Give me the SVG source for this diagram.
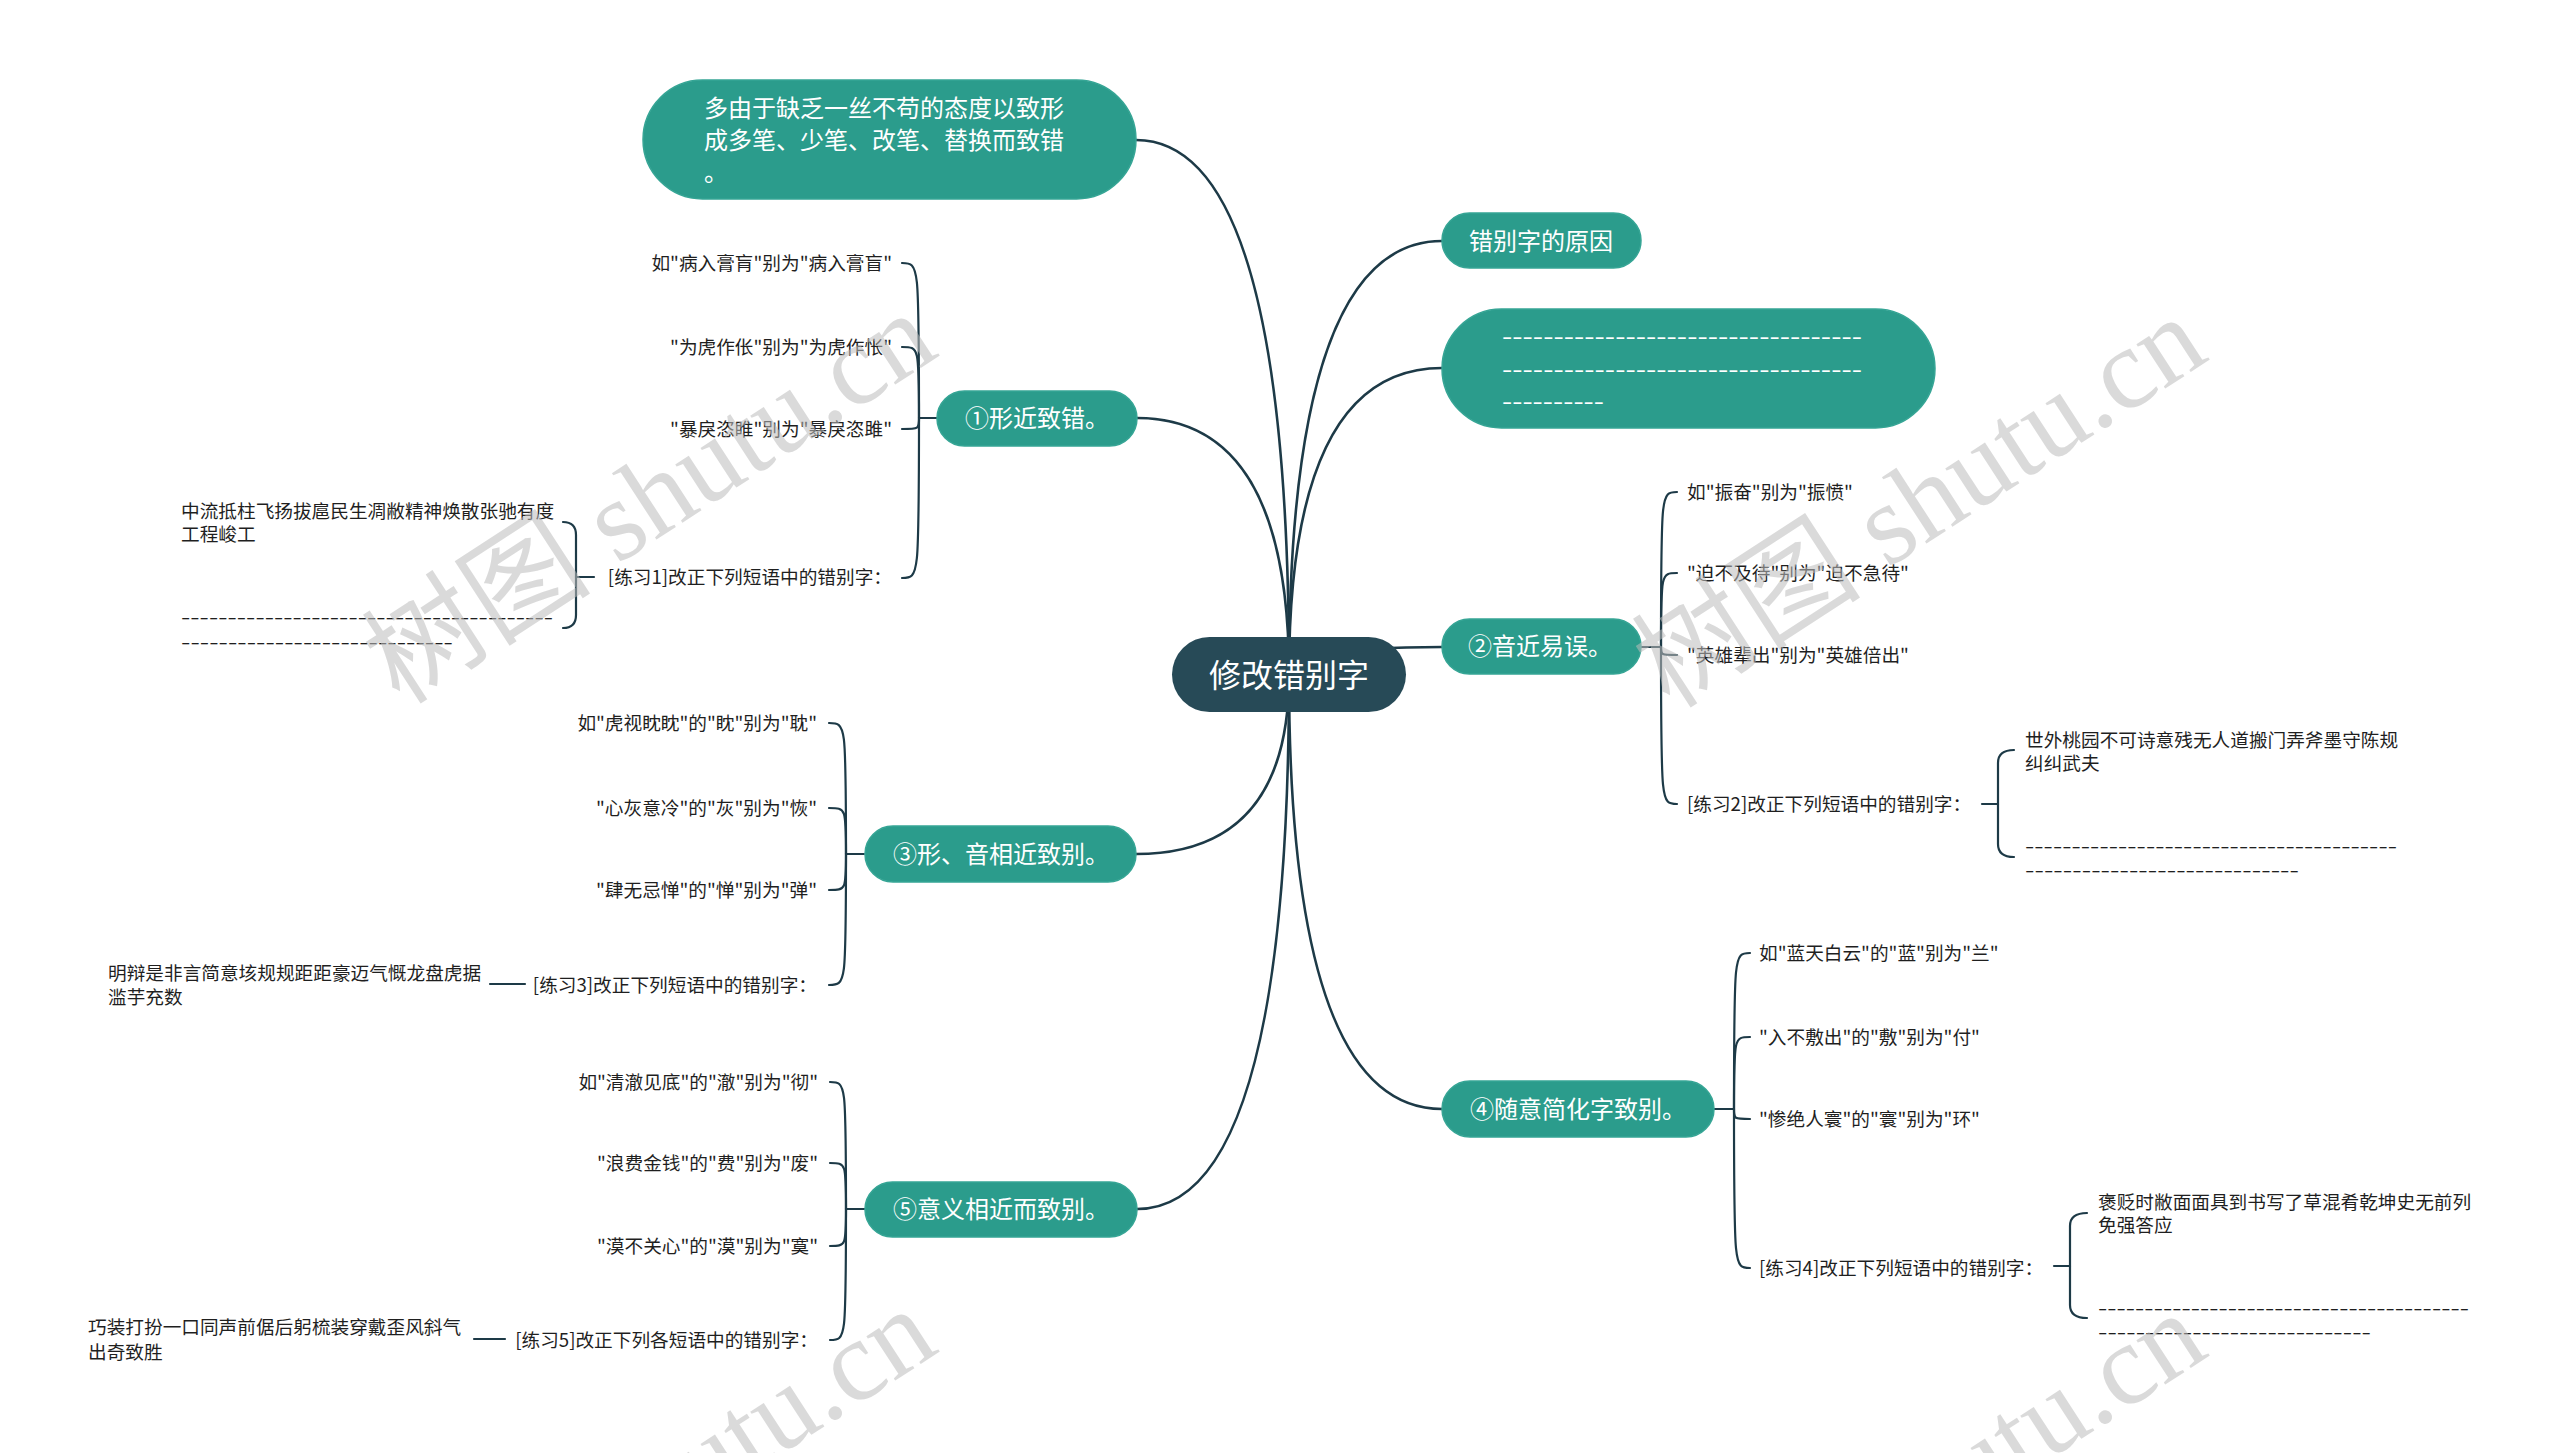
<svg xmlns="http://www.w3.org/2000/svg" width="2560" height="1453" viewBox="0 0 2560 1453">
<style>
.bg{fill:#ffffff}
.root rect{fill:#274a57}
.root text{fill:#ffffff;font-size:32px}
.n1 rect{fill:#2b9c8c;stroke:#36a595;stroke-width:1.5}
.n1 text{fill:#ffffff;font-size:24px}
text{font-family:"Noto Sans CJK SC","Noto Sans",sans-serif}
.leaf{fill:#1f1f1f;font-size:18.67px}
.end{text-anchor:end}
.c path{fill:none;stroke:#1d3a47;stroke-linecap:round}
.c .m{stroke-width:2.6}
.c .s{stroke-width:2.2}
.wm{font-family:"Liberation Serif","Noto Sans CJK SC",serif;font-size:115px;fill:#bdbdbd;opacity:0.55}
</style>
<rect class="bg" x="0" y="0" width="2560" height="1453"/>

<g id="connectors" class="c">
  <!-- root to level-1 -->
  <path class="m" d="M1289 675 Q1289 140 1136 140"/>
  <path class="m" d="M1289 675 Q1289 418 1137 418"/>
  <path class="m" d="M1289 675 Q1289 854 1136 854"/>
  <path class="m" d="M1289 675 Q1289 1209 1137 1209"/>
  <path class="m" d="M1289 675 Q1289 241 1442 241"/>
  <path class="m" d="M1289 675 Q1289 368 1442 368"/>
  <path class="m" d="M1289 675 Q1289 647 1442 647"/>
  <path class="m" d="M1289 675 Q1289 1109 1442 1109"/>
  <!-- branch 1 -->
  <path class="s" d="M937 418 L919 418"/>
  <path class="s" d="M919 418 C919 263 919 263 902 263"/>
  <path class="s" d="M919 418 C919 347 919 347 902 347"/>
  <path class="s" d="M919 418 C919 429 919 429 902 429"/>
  <path class="s" d="M919 418 C919 578 919 578 902 578"/>
  <path class="s" d="M594 577 L576 577"/>
  <path class="s" d="M563 522 Q576 522 576 535 L576 615 Q576 628 563 628"/>
  <!-- branch 2 -->
  <path class="s" d="M1641 647 L1661 647"/>
  <path class="s" d="M1661 647 C1661 492 1661 492 1677 492"/>
  <path class="s" d="M1661 647 C1661 573 1661 573 1677 573"/>
  <path class="s" d="M1661 647 C1661 655 1661 655 1677 655"/>
  <path class="s" d="M1661 647 C1661 804 1661 804 1677 804"/>
  <path class="s" d="M1982 804 L1998 804"/>
  <path class="s" d="M2014 750 Q1998 750 1998 763 L1998 844 Q1998 857 2014 857"/>
  <!-- branch 3 -->
  <path class="s" d="M864 854 L846 854"/>
  <path class="s" d="M846 854 C846 723 846 723 829 723"/>
  <path class="s" d="M846 854 C846 808 846 808 829 808"/>
  <path class="s" d="M846 854 C846 890 846 890 829 890"/>
  <path class="s" d="M846 854 C846 985 846 985 829 985"/>
  <path class="s" d="M525 984 L490 984"/>
  <!-- branch 4 -->
  <path class="s" d="M1714 1109 L1734 1109"/>
  <path class="s" d="M1734 1109 C1734 953 1734 953 1750 953"/>
  <path class="s" d="M1734 1109 C1734 1037 1734 1037 1750 1037"/>
  <path class="s" d="M1734 1109 C1734 1119 1734 1119 1750 1119"/>
  <path class="s" d="M1734 1109 C1734 1268 1734 1268 1750 1268"/>
  <path class="s" d="M2054 1266 L2070 1266"/>
  <path class="s" d="M2087 1213 Q2070 1213 2070 1226 L2070 1305 Q2070 1318 2087 1318"/>
  <!-- branch 5 -->
  <path class="s" d="M865 1209 L846 1209"/>
  <path class="s" d="M846 1209 C846 1082 846 1082 830 1082"/>
  <path class="s" d="M846 1209 C846 1163 846 1163 830 1163"/>
  <path class="s" d="M846 1209 C846 1246 846 1246 830 1246"/>
  <path class="s" d="M846 1209 C846 1340 846 1340 830 1340"/>
  <path class="s" d="M505 1339 L474 1339"/>
</g>

<g id="root" class="root">
  <rect x="1172" y="637" width="234" height="75" rx="37.5"/>
  <text x="1289" y="687" text-anchor="middle">修改错别字</text>
</g>

<g id="n-top" class="n1">
  <rect x="643" y="80" width="493" height="119" rx="59.5"/>
  <text x="704" y="117">多由于缺乏一丝不苟的态度以致形</text>
  <text x="704" y="149">成多笔、少笔、改笔、替换而致错</text>
  <text x="704" y="181">。</text>
</g>
<g id="n-reason" class="n1">
  <rect x="1442" y="213" width="199" height="55" rx="27.5"/>
  <text x="1469" y="250">错别字的原因</text>
</g>
<g id="n-dash" class="n1">
  <rect x="1442" y="309" width="493" height="119" rx="59.5"/>
  <text x="1502" y="345" textLength="360" lengthAdjust="spacingAndGlyphs">-----------------------------------</text>
  <text x="1502" y="378" textLength="360" lengthAdjust="spacingAndGlyphs">-----------------------------------</text>
  <text x="1502" y="410" textLength="102" lengthAdjust="spacingAndGlyphs">----------</text>
</g>
<g id="n1" class="n1">
  <rect x="937" y="391" width="200" height="55" rx="27.5"/>
  <text x="965" y="427">①形近致错。</text>
</g>
<g id="n2" class="n1">
  <rect x="1442" y="619" width="199" height="55" rx="27.5"/>
  <text x="1468" y="655">②音近易误。</text>
</g>
<g id="n3" class="n1">
  <rect x="865" y="826" width="271" height="56" rx="28"/>
  <text x="893" y="863">③形、音相近致别。</text>
</g>
<g id="n4" class="n1">
  <rect x="1442" y="1081" width="272" height="56" rx="28"/>
  <text x="1470" y="1118">④随意简化字致别。</text>
</g>
<g id="n5" class="n1">
  <rect x="865" y="1182" width="272" height="55" rx="27.5"/>
  <text x="893" y="1218">⑤意义相近而致别。</text>
</g>

<g id="b1-items">
  <text class="leaf end" x="892" y="270">如"病入膏肓"别为"病入膏盲"</text>
  <text class="leaf end" x="892" y="354">"为虎作伥"别为"为虎作怅"</text>
  <text class="leaf end" x="892" y="436">"暴戾恣睢"别为"暴戾恣雎"</text>
  <text class="leaf end" x="892" y="584">[练习1]改正下列短语中的错别字：</text>
</g>
<g id="b1-ex">
  <text class="leaf" x="181" y="518">中流抵柱飞扬拔扈民生凋敝精神焕散张驰有度</text>
  <text class="leaf" x="181" y="541">工程峻工</text>
  <text class="leaf" x="181" y="624" textLength="372" lengthAdjust="spacingAndGlyphs">----------------------------------------</text>
  <text class="leaf" x="181" y="649" textLength="272" lengthAdjust="spacingAndGlyphs">-----------------------------</text>
</g>

<g id="b2-items">
  <text class="leaf" x="1687" y="499">如"振奋"别为"振愤"</text>
  <text class="leaf" x="1687" y="580">"迫不及待"别为"迫不急待"</text>
  <text class="leaf" x="1687" y="662">"英雄辈出"别为"英雄倍出"</text>
  <text class="leaf" x="1687" y="811">[练习2]改正下列短语中的错别字：</text>
</g>
<g id="b2-ex">
  <text class="leaf" x="2025" y="747">世外桃园不可诗意残无人道搬门弄斧墨守陈规</text>
  <text class="leaf" x="2025" y="770">纠纠武夫</text>
  <text class="leaf" x="2025" y="853" textLength="372" lengthAdjust="spacingAndGlyphs">----------------------------------------</text>
  <text class="leaf" x="2025" y="877" textLength="274" lengthAdjust="spacingAndGlyphs">-----------------------------</text>
</g>

<g id="b3-items">
  <text class="leaf end" x="817" y="730">如"虎视眈眈"的"眈"别为"耽"</text>
  <text class="leaf end" x="817" y="815">"心灰意冷"的"灰"别为"恢"</text>
  <text class="leaf end" x="817" y="897">"肆无忌惮"的"惮"别为"弹"</text>
  <text class="leaf end" x="817" y="992">[练习3]改正下列短语中的错别字：</text>
</g>
<g id="b3-ex">
  <text class="leaf" x="108" y="980">明辩是非言简意垓规规距距豪迈气慨龙盘虎据</text>
  <text class="leaf" x="108" y="1004">滥芋充数</text>
</g>

<g id="b4-items">
  <text class="leaf" x="1759" y="960">如"蓝天白云"的"蓝"别为"兰"</text>
  <text class="leaf" x="1759" y="1044">"入不敷出"的"敷"别为"付"</text>
  <text class="leaf" x="1759" y="1126">"惨绝人寰"的"寰"别为"环"</text>
  <text class="leaf" x="1759" y="1275">[练习4]改正下列短语中的错别字：</text>
</g>
<g id="b4-ex">
  <text class="leaf" x="2098" y="1209">褒贬时敝面面具到书写了草混肴乾坤史无前列</text>
  <text class="leaf" x="2098" y="1232">免强答应</text>
  <text class="leaf" x="2098" y="1315" textLength="371" lengthAdjust="spacingAndGlyphs">----------------------------------------</text>
  <text class="leaf" x="2098" y="1339" textLength="273" lengthAdjust="spacingAndGlyphs">-----------------------------</text>
</g>

<g id="b5-items">
  <text class="leaf end" x="818" y="1089">如"清澈见底"的"澈"别为"彻"</text>
  <text class="leaf end" x="818" y="1170">"浪费金钱"的"费"别为"废"</text>
  <text class="leaf end" x="818" y="1253">"漠不关心"的"漠"别为"寞"</text>
  <text class="leaf end" x="818" y="1347">[练习5]改正下列各短语中的错别字：</text>
</g>
<g id="b5-ex">
  <text class="leaf" x="88" y="1334">巧装打扮一口同声前倨后躬梳装穿戴歪风斜气</text>
  <text class="leaf" x="88" y="1359">出奇致胜</text>
</g>

<g id="watermarks">
  <text class="wm" transform="translate(400 706) rotate(-33)">树图 shutu.cn</text>
  <text class="wm" transform="translate(1670 710) rotate(-33)">树图 shutu.cn</text>
  <text class="wm" transform="translate(400 1702) rotate(-33)">树图 shutu.cn</text>
  <text class="wm" transform="translate(1670 1706) rotate(-33)">树图 shutu.cn</text>
</g>
</svg>
